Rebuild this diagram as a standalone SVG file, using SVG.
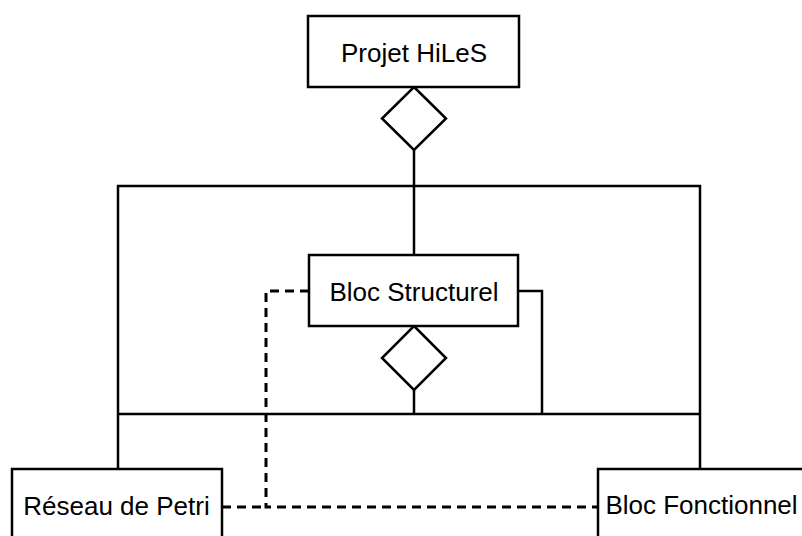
<svg xmlns="http://www.w3.org/2000/svg" width="802" height="536" viewBox="0 0 802 536">
<style>
.box{fill:#fff;stroke:#000;stroke-width:2.5}
.ln{fill:none;stroke:#000;stroke-width:2.5}
.dash{fill:none;stroke:#000;stroke-width:3;stroke-dasharray:9,6}
.dia{fill:#fff;stroke:#000;stroke-width:2.5}
text{font-family:"Liberation Sans",Arial,sans-serif;font-size:26px;fill:#000;text-anchor:middle}
</style>
<rect width="802" height="536" fill="#fff"/>
<g id="connectors">
<polyline class="ln" points="414,150 414,255"/>
<polyline class="ln" points="118,469 118,186 700,186 700,469"/>
<line class="ln" x1="118" y1="414" x2="700" y2="414"/>
<polyline class="ln" points="414,390 414,414"/>
<polyline class="ln" points="518,291 542,291 542,414"/>
<polyline class="dash" points="309,291 266,291 266,507 598,507"/>
<line class="dash" x1="222" y1="507" x2="266" y2="507"/>
<polygon class="dia" points="414,87 446,118.5 414,150 382,118.5"/>
<polygon class="dia" points="414,326 446,358 414,390 382,358"/>
</g>
<g id="projet">
<rect class="box" x="308" y="16" width="211" height="71"/>
<text x="414" y="61.5">Projet HiLeS</text>
</g>
<g id="bloc-structurel">
<rect class="box" x="309" y="255" width="209" height="71"/>
<text x="414" y="300.5">Bloc Structurel</text>
</g>
<g id="reseau-petri">
<rect class="box" x="12" y="469" width="210" height="80"/>
<text x="116.5" y="515">Réseau de Petri</text>
</g>
<g id="bloc-fonctionnel">
<rect class="box" x="598" y="469" width="220" height="80"/>
<text x="701.5" y="514">Bloc Fonctionnel</text>
</g>
</svg>
